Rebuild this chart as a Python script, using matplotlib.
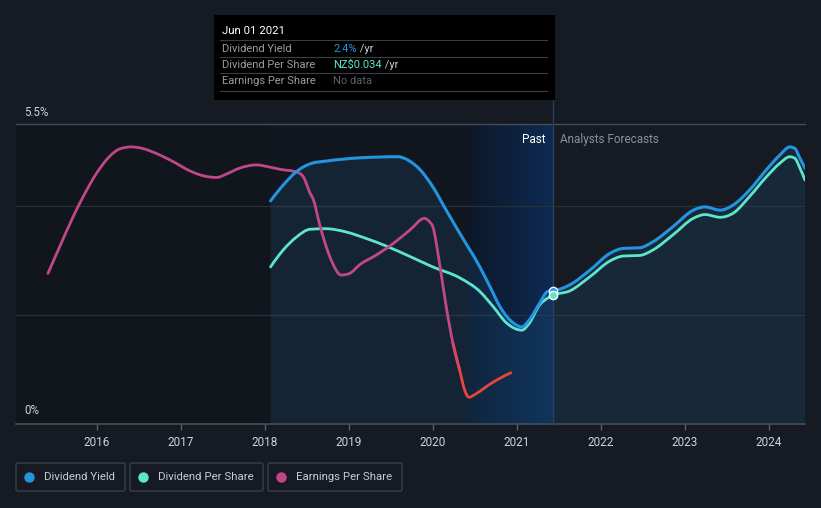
import numpy as np
import matplotlib
matplotlib.use('Agg')
import matplotlib.pyplot as plt
from matplotlib.path import Path
from matplotlib.patches import Rectangle, FancyBboxPatch, PathPatch
from matplotlib.lines import Line2D
from matplotlib.colors import to_rgb

plt.rcParams['font.family'] = ['Roboto', 'DejaVu Sans']

# Dividend yield (%), decimal years
dy_x = [2018.07, 2018.22, 2018.38, 2018.56, 2018.73, 2019.13, 2019.59, 2019.69, 2019.85,
        2020.00, 2020.16, 2020.32, 2020.56, 2020.68, 2020.80, 2020.96, 2021.06, 2021.15,
        2021.27, 2021.37, 2021.43, 2021.63, 2021.87, 2022.11, 2022.27, 2022.46, 2022.62,
        2022.86, 2023.10, 2023.24, 2023.42, 2023.58, 2023.77, 2023.97, 2024.13, 2024.25,
        2024.31, 2024.37, 2024.43]
dy_y = [4.09, 4.38, 4.63, 4.78, 4.82, 4.88, 4.90, 4.85, 4.66,
        4.35, 3.92, 3.50, 2.88, 2.52, 2.15, 1.85, 1.78, 1.91,
        2.21, 2.43, 2.44, 2.55, 2.82, 3.13, 3.22, 3.23, 3.34,
        3.62, 3.92, 3.98, 3.92, 4.02, 4.29, 4.66, 4.93, 5.08,
        5.05, 4.87, 4.69]

# Dividend per share (scaled to same axis)
dps_x = [2018.07, 2018.22, 2018.38, 2018.54, 2018.73, 2018.97, 2019.21, 2019.45, 2019.73,
         2020.00, 2020.32, 2020.56, 2020.72, 2020.88, 2021.06, 2021.15, 2021.27, 2021.37,
         2021.43, 2021.63, 2021.87, 2022.11, 2022.27, 2022.46, 2022.62, 2022.86, 2023.10,
         2023.24, 2023.42, 2023.58, 2023.77, 2023.97, 2024.13, 2024.25, 2024.31, 2024.37,
         2024.43]
dps_y = [2.88, 3.19, 3.43, 3.57, 3.58, 3.52, 3.40, 3.26, 3.07,
         2.88, 2.68, 2.43, 2.15, 1.85, 1.72, 1.85, 2.18, 2.31,
         2.36, 2.44, 2.70, 2.99, 3.08, 3.09, 3.19, 3.47, 3.77,
         3.84, 3.79, 3.87, 4.17, 4.53, 4.78, 4.90, 4.87, 4.69,
         4.47]

# Earnings per share (scaled to same axis)
eps_x = [2015.42, 2015.56, 2015.72, 2015.84, 2016.00, 2016.15, 2016.27, 2016.41, 2016.55,
         2016.71, 2016.91, 2017.11, 2017.27, 2017.43, 2017.54, 2017.70, 2017.90, 2018.06,
         2018.18, 2018.38, 2018.46, 2018.54, 2018.58, 2018.65, 2018.79, 2018.91, 2019.01,
         2019.13, 2019.33, 2019.53, 2019.73, 2019.90, 2019.96, 2020.00, 2020.08, 2020.16,
         2020.24, 2020.32, 2020.38, 2020.43, 2020.52, 2020.68, 2020.93]
eps_y = [2.76, 3.25, 3.80, 4.17, 4.60, 4.90, 5.04, 5.08, 5.05,
         4.96, 4.81, 4.64, 4.55, 4.52, 4.58, 4.69, 4.75, 4.71,
         4.67, 4.62, 4.53, 4.23, 4.11, 3.68, 3.01, 2.73, 2.76,
         2.92, 3.10, 3.31, 3.56, 3.77, 3.71, 3.62, 2.95, 2.15,
         1.48, 0.99, 0.62, 0.49, 0.56, 0.73, 0.94]

years = [2016, 2017, 2018, 2019, 2020, 2021, 2022, 2023, 2024]
now = 2021.43
past_start = 2020.42
data_start = 2018.06

W, H = 821, 508
BG = '#151a23'
BLUE = '#2394df'
TEAL = '#5ee6cd'
PINK = '#c2478a'
RED = '#e8463a'


def monotone_path(x, y):
    # cubic monotone curve through the points (like a monotoneX line)
    x = np.asarray(x, float)
    y = np.asarray(y, float)
    h = np.diff(x)
    s = np.diff(y) / h
    m = np.zeros(len(x))
    for i in range(1, len(x) - 1):
        p = (s[i - 1] * h[i] + s[i] * h[i - 1]) / (h[i - 1] + h[i])
        m[i] = (np.sign(s[i - 1]) + np.sign(s[i])) * min(abs(s[i - 1]), abs(s[i]), 0.5 * abs(p))
    m[0] = 2 * s[0] - m[1] if len(x) > 2 else s[0]
    m[-1] = 2 * s[-1] - m[-2] if len(x) > 2 else s[-1]
    verts = [(x[0], y[0])]
    codes = [Path.MOVETO]
    for i in range(len(x) - 1):
        d = h[i] / 3
        verts += [(x[i] + d, y[i] + m[i] * d), (x[i + 1] - d, y[i + 1] - m[i + 1] * d),
                  (x[i + 1], y[i + 1])]
        codes += [Path.CURVE4] * 3
    return verts, codes


def add_line(ax, x, y, color, lw, z, start=0, stop=None):
    verts, codes = monotone_path(x, y)
    if stop is None:
        stop = len(x) - 1
    v = [verts[3 * start]] + verts[3 * start + 1:3 * stop + 1]
    c = [Path.MOVETO] + codes[3 * start + 1:3 * stop + 1]
    ax.add_patch(PathPatch(Path(v, c), facecolor='none', edgecolor=color, lw=lw,
                           capstyle='round', joinstyle='round', zorder=z))


fig = plt.figure(figsize=(W / 100, H / 100), dpi=100, facecolor=BG)
ax = fig.add_axes([16 / W, 1 - 424 / H, (805 - 16) / W, 300 / H])
ax.set_facecolor(BG)
x0, x1 = 2015.04, 2024.43
ax.set_xlim(x0, x1)
ax.set_ylim(0, 5.5)

# background regions
ax.axvspan(x0, data_start, color='#11151c', lw=0, zorder=0)
ax.axvspan(data_start, past_start, color='#12161e', lw=0, zorder=0)
grad = np.linspace(0, 1, 256).reshape(1, -1)
c1, c2 = np.array(to_rgb('#0c1729')), np.array(to_rgb('#0e2b52'))
img = c1 + (c2 - c1) * grad[..., None]
ax.imshow(img, extent=[past_start, now, 0, 5.5], aspect='auto', zorder=0.5)

# grid
for v in [2, 4]:
    ax.axhline(v, color='#2a3039', lw=0.9, zorder=1)
ax.axhline(5.5, color='#474c55', lw=1, zorder=1, clip_on=False)
ax.axhline(0, color='#474c55', lw=1.2, zorder=1, clip_on=False)

# fill under dividend yield
fv, fc = monotone_path(dy_x, dy_y)
fv = fv + [(dy_x[-1], 0), (dy_x[0], 0), (dy_x[0], 0)]
fc = fc + [Path.LINETO, Path.LINETO, Path.CLOSEPOLY]
ax.add_patch(PathPatch(Path(fv, fc), facecolor='#1f5a8a', alpha=0.22, lw=0, zorder=1.5))

add_line(ax, dps_x, dps_y, TEAL, 2, 3)
add_line(ax, dy_x, dy_y, BLUE, 2.2, 4)

# EPS: pink, turning red in the last dip
split = eps_x.index(2020.32)
add_line(ax, eps_x, eps_y, PINK, 2, 3, 0, split)
add_line(ax, eps_x, eps_y, '#d8455e', 2, 3.1, split - 1, split)
add_line(ax, eps_x, eps_y, RED, 2, 3.2, split)

# now line and markers
ax.plot([now, now], [0, 5.5 * 1.08], color='#2b3f5c', lw=1, zorder=2, clip_on=False)
ax.plot([now], [2.44], 'o', ms=6, color=BLUE, mec='white', mew=1, zorder=5)
ax.plot([now], [2.36], 'o', ms=6, color=TEAL, mec='white', mew=1, zorder=6)

ax.text(now - 0.09, 5.22, 'Past', color='white', fontsize=8.5, ha='right', va='center')
ax.text(now + 0.09, 5.22, 'Analysts Forecasts', color='#8a8f98', fontsize=8.5, ha='left', va='center')

for s in ax.spines.values():
    s.set_visible(False)
ax.set_yticks([])
ax.set_xticks(years)
ax.set_xticklabels([str(y) for y in years])
ax.tick_params(axis='x', colors='#5a5f68', length=4, width=1, labelcolor='#d0d3d8',
               labelsize=8.5, pad=5)

fig.text(24 / W, 1 - 112 / H, '5.5%', color='#d0d3d8', fontsize=8.3, va='center')
fig.text(24 / W, 1 - 411 / H, '0%', color='#d0d3d8', fontsize=8.3, va='center')


# tooltip
def fx(x):
    return x / W


def fy(y):
    return 1 - y / H


fig.add_artist(Rectangle((fx(214), fy(100)), fx(555) - fx(214), fy(15) - fy(100),
                         transform=fig.transFigure, facecolor='black', edgecolor='none', zorder=10))
fig.text(fx(222), fy(31), 'Jun 01 2021', color='white', fontsize=8.2, va='center', zorder=11)
for yy in [40, 57, 73, 91]:
    fig.add_artist(Line2D([fx(220), fx(547)], [fy(yy), fy(yy)], transform=fig.transFigure,
                          color='#3a3d42', lw=0.8, zorder=11))
rows = [('Dividend Yield', '2.4%', BLUE, ' /yr'),
        ('Dividend Per Share', 'NZ$0.034', TEAL, ' /yr'),
        ('Earnings Per Share', 'No data', '#5d6066', '')]
for i, (lab, val, c, suf) in enumerate(rows):
    yy = fy(48.5 + i * 16.5)
    fig.text(fx(222), yy, lab, color='#9a9da3', fontsize=8, va='center', zorder=11)
    tv = fig.text(fx(333), yy, val, color=c, fontsize=8, va='center', zorder=11)
    if suf:
        fig.canvas.draw()
        bb = tv.get_window_extent()
        fig.text(bb.x1 / W, yy, suf, color='#c8cbd0', fontsize=8, va='center', zorder=11)

# legend
items = [('Dividend Yield', BLUE, 16, 125), ('Dividend Per Share', TEAL, 130, 263),
         ('Earnings Per Share', PINK, 268, 402)]
for lab, c, xa, xb in items:
    fig.add_artist(FancyBboxPatch((fx(xa), fy(491)), fx(xb) - fx(xa), fy(463) - fy(491),
                                  boxstyle='round,pad=0,rounding_size=0.003',
                                  transform=fig.transFigure, facecolor='none',
                                  edgecolor='#3a3f48', lw=1))
    fig.add_artist(Line2D([fx(xa + 13)], [fy(477)], marker='o', ms=6.5, color=c,
                          mec=c, transform=fig.transFigure))
    fig.text(fx(xa + 28), fy(477), lab, color='#c8cbd0', fontsize=8.2, va='center')

fig.savefig('out.png', dpi=100, facecolor=BG)
